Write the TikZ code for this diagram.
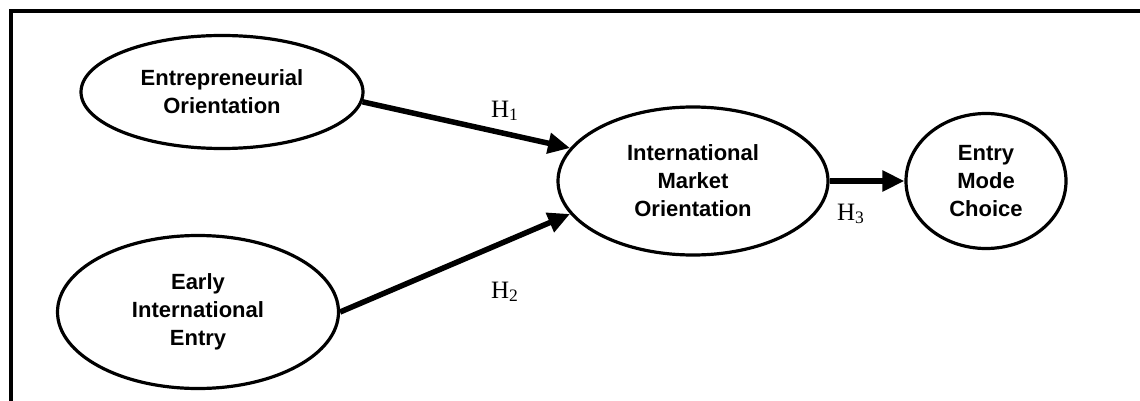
\documentclass[tikz,border=0pt]{standalone}
\usepackage{fontspec}
\setmainfont{Liberation Sans}
\newfontfamily\hyfont{Liberation Serif}
\usetikzlibrary{arrows.meta,positioning,shapes.geometric}

\begin{document}
\begin{tikzpicture}[x=0.5pt, y=-0.5pt, >={Triangle[length=11pt,width=10pt]},
  font=\fontsize{11}{14}\selectfont\bfseries,
  var/.style={ellipse, draw, line width=1.6pt, align=center, inner sep=0pt},
  link/.style={->, line width=2.75pt},
  hyp/.style={font=\fontsize{12.5}{14}\selectfont\hyfont, inner sep=1pt},
]
  \useasboundingbox (0,0) rectangle (1140,401);
  \draw[line width=2pt] (11,401) -- (11,11) -- (1140,11);

  \node[var, minimum width=141pt, minimum height=56.5pt] (eo) at (222,92) {Entrepreneurial\\Orientation};
  \node[var, minimum width=140.5pt, minimum height=76.5pt] (eie) at (198,312) {Early\\International\\Entry};
  \node[var, minimum width=135pt, minimum height=74pt] (imo) at (693,181) {International\\Market\\Orientation};
  \node[var, minimum width=80pt, minimum height=67.5pt] (emc) at (986,181) {Entry\\Mode\\Choice};

  \draw[link] (eo.-4) -- (imo.165);
  \draw[link] (eie.east) -- (imo.195);
  \draw[link] (imo.east) -- (emc.west);

  \node[hyp] (h1) at (505,111) {H\textsubscript{1}};
  \node[hyp] (h2) at (505,292) {H\textsubscript{2}};
  \node[hyp] (h3) at (851,214) {H\textsubscript{3}};
\end{tikzpicture}
\end{document}
